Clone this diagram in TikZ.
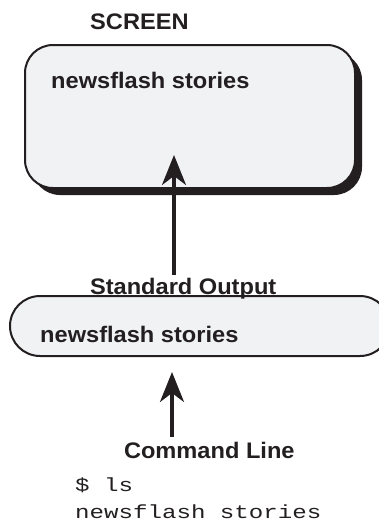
\documentclass[tikz,border=0pt]{standalone}
\usepackage{fontspec}
\newfontfamily\hbf{Liberation Sans}[FakeStretch=1.05]
\newfontfamily\cour{Liberation Mono}[FakeStretch=1.27]
\usetikzlibrary{arrows.meta,shadows}
\definecolor{boxfill}{HTML}{F1F2F4}
\definecolor{ink}{HTML}{231F20}
\begin{document}
\begin{tikzpicture}[x=1pt,y=-1pt,
  lbl/.style={font=\hbf\bfseries\fontsize{22.5}{26}\selectfont, text=ink, anchor=base west, inner sep=0pt},
  mono/.style={font=\cour\fontsize{19}{22}\selectfont, text=ink, anchor=base west, inner sep=0pt},
  arr/.style={draw=ink, line width=3.4pt, -{Stealth[length=30pt,width=24pt,inset=9pt]}},
  panel/.style={draw=ink, line width=2pt, fill=boxfill}]
\useasboundingbox (0,0) rectangle (379,523);
\clip (0,0) rectangle (379,523);
\node[panel, rounded corners=28pt, minimum width=330pt, minimum height=143pt,
      drop shadow={shadow xshift=7pt, shadow yshift=-7pt, fill=ink, opacity=1}] (screen) at (190,116.5) {};
\node[panel, rounded corners=30pt, minimum width=380pt, minimum height=60pt] (out) at (200,326) {};
\node[lbl] (title) at (90,29) {SCREEN};
\node[lbl] (scrtext) at (51,88) {newsflash stories};
\node[lbl, outer sep=3pt] (stdout) at (87,294) {Standard Output};
\node[lbl] (outtext) at (40,342) {newsflash stories};
\node[lbl, outer sep=5pt] (cmd) at (119,458) {Command Line};
\node[mono] (term1) at (75,491) {\$ ls};
\node[mono] (term2) at (75,518) {newsflash stories};
\coordinate (tip1) at (174,155);
\draw[arr] (stdout.north -| tip1) -- (tip1);
\coordinate (tip2) at (172,372);
\draw[arr] (cmd.north -| tip2) -- (tip2);
\end{tikzpicture}
\end{document}
